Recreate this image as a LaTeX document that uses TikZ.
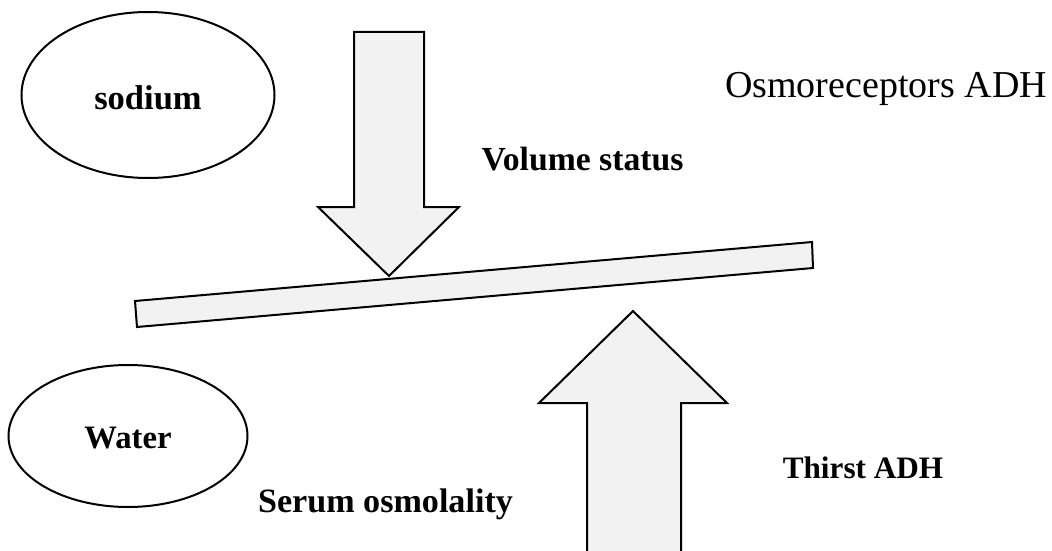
\documentclass[tikz,border=0pt]{standalone}
\usepackage{fontspec}
\setmainfont{Liberation Serif}
\usetikzlibrary{shapes.geometric}
\definecolor{shapefill}{HTML}{F2F2F2}
\tikzset{
  oval/.style={draw=black, line width=2pt, ellipse, inner sep=0pt},
  block/.style={draw=black, line width=2pt, fill=shapefill, line join=miter},
  label/.style={inner sep=0pt, anchor=base},
}
\newcommand{\fs}[1]{\fontsize{#1}{#1}\selectfont}
\begin{document}
\begin{tikzpicture}[x=1pt, y=-1pt]
  \useasboundingbox (0,0) rectangle (1052,551);
  \clip (0,0) rectangle (1052,551);

  % substance ovals
  \node[oval, minimum width=253pt, minimum height=166pt] (sodium) at (148,95) {};
  \node[label] (sodiumtext) at (148,110) {\fs{34.5}\bfseries sodium};
  \node[oval, minimum width=239pt, minimum height=142pt] (water) at (128,436) {};
  \node[label] (watertext) at (128,448) {\fs{32.7}\bfseries Water};

  % balance beam
  \draw[block] (135,301) -- (812,242) -- (813,268) -- (137,327) -- cycle;

  % downward arrow pressing on the beam
  \draw[block] (354,32) -- (424,32) -- (424,207) -- (459,207) -- (389,276)
               -- (318,207) -- (354,207) -- cycle;

  % upward arrow pushing the beam
  \draw[block] (587,570) -- (587,403) -- (539,403) -- (633,311) -- (727,403)
               -- (681,403) -- (681,570) -- cycle;

  % labels
  \node[label] (osmo) at (886,97) {\fs{38}Osmoreceptors ADH};
  \node[label] (volume) at (582.5,170) {\fs{33.7}\bfseries Volume status};
  \node[label] (serum) at (385.5,512) {\fs{34.1}\bfseries Serum osmolality};
  \node[label] (thirst) at (863,478) {\fs{31.2}\bfseries Thirst ADH};
\end{tikzpicture}
\end{document}
